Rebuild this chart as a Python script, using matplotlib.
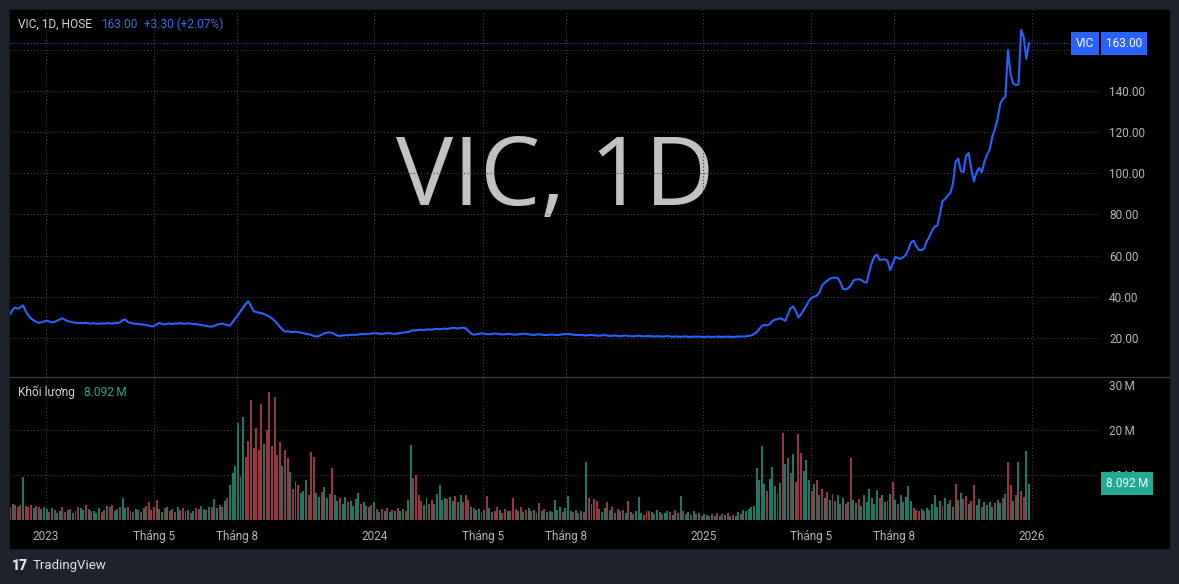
import matplotlib.pyplot as plt
import matplotlib.transforms as mtransforms
import numpy as np
import pandas as pd

plt.rcParams['font.family'] = ['Roboto', 'DejaVu Sans']

# --- data (one point every ~2 trading days) ---
start_date = '2022-11-22'
end_date = '2025-12-29'

price_A = [31.5, 33.8, 34.8, 34.2, 34.9, 35.8, 33.0, 31.0, 29.5, 28.6, 27.8, 27.3, 27.6, 28.0]
price_B = [28.4, 28.0, 27.6, 27.8, 28.4, 29.0, 29.6, 28.8, 28.2, 27.9, 27.6, 27.4, 27.3, 27.3,
           27.2, 27.4, 27.1, 27.0, 27.2, 27.0, 26.9, 27.1, 27.0, 27.2, 27.1, 27.0, 27.3, 27.2,
           27.6, 28.6, 29.0, 27.8, 27.3, 27.0, 26.9, 26.8, 26.6, 26.5, 26.3, 26.0]
price_C = [25.6, 25.8, 26.6, 27.4, 26.8, 26.6, 26.9, 27.0, 26.8, 27.1, 27.0, 27.2, 27.0, 26.9,
           27.1, 27.0, 26.8, 26.7, 26.5, 26.3, 26.1, 25.9, 25.6, 25.5, 25.9, 26.4, 26.8, 27.0,
           26.6, 26.3, 26.0, 27.8]
price_D = [29.5, 31.0, 33.0, 34.8, 36.5, 37.8, 35.5, 33.0, 32.6, 32.3, 32.1, 31.6, 31.0, 30.4,
           29.5, 28.4, 27.0, 25.5, 24.2, 23.0, 23.3, 23.0, 22.8, 23.1, 22.8, 22.6, 22.3, 22.0,
           21.8, 21.5, 21.0, 20.7, 21.0, 21.6, 22.3, 22.6, 22.7, 22.5, 21.8, 21.2, 21.0, 21.2,
           21.4, 21.3, 21.5, 21.6, 21.5, 21.7, 22.0, 21.9, 22.1, 22.0, 22.2, 22.3]
price_E = [22.3, 22.1, 22.0, 22.2, 22.4, 22.3, 22.1, 22.0, 22.2, 22.5, 22.6, 22.8, 22.9, 23.4,
           23.8, 23.6, 23.9, 24.0, 23.8, 24.1, 24.2, 24.0, 24.3, 24.5, 24.2, 24.4, 24.6, 24.4,
           24.7, 24.9, 24.8, 24.6, 24.9, 25.0, 24.7, 23.4, 22.2, 21.6, 21.8]
price_F = [22.0, 22.3, 22.1, 21.9, 21.8, 22.0, 22.2, 22.1, 21.9, 21.7, 21.8, 22.0, 21.9, 21.7,
           21.6, 21.8, 21.9, 22.1, 22.0, 21.8, 21.6, 21.5, 21.7, 21.8, 21.6, 21.5, 21.4, 21.6,
           21.7, 21.5, 21.4, 21.6, 21.8]
price_G = [21.9, 22.0, 21.8, 21.6, 21.5, 21.4, 21.5, 21.3, 21.2, 21.4, 21.5, 21.3, 21.2, 21.1,
           21.3, 21.4, 21.2, 21.0, 21.1, 21.2, 21.0, 20.9, 21.1, 21.2, 21.0, 20.9, 20.8, 21.0,
           21.1, 20.9, 20.8, 20.9, 21.0, 20.8, 20.7, 20.9, 20.8, 20.7, 20.8, 20.9, 20.7, 20.6,
           20.8, 20.7, 20.6, 20.7, 20.8, 20.6, 20.5, 20.7, 20.6, 20.7, 20.6, 20.5]
price_H = [20.7, 20.6, 20.5, 20.6, 20.7, 20.6, 20.5, 20.6, 20.7, 20.6, 20.5, 20.6, 20.7, 20.8,
           20.7, 20.8, 21.0, 21.3, 21.9, 22.8, 24.3, 25.8, 26.4, 26.1, 26.7, 28.2, 28.9, 29.1,
           29.6, 29.0, 28.3, 31.5, 34.5, 35.3, 33.0, 30.0, 31.5, 33.6, 35.5]
price_I = [38.0, 39.5, 40.0, 40.6, 42.0, 45.5, 46.9, 47.8, 48.8, 49.2, 49.3, 49.1, 47.0, 43.8,
           43.6, 44.2, 45.5, 48.0, 48.4, 48.5, 48.2, 47.2, 46.8, 52.0, 56.5, 59.5, 60.5, 57.9,
           58.0, 58.2, 57.5, 53.0]
price_J = [56.0, 59.3, 58.8, 58.4, 59.2, 60.3, 63.0, 66.5, 67.2, 64.5, 62.7, 62.6, 63.5, 67.0,
           69.2, 72.0, 74.1, 74.5, 80.0, 86.5, 87.5, 89.2, 90.3, 95.0, 105.5, 107.0, 101.0, 100.5,
           108.5, 109.8, 102.0, 96.0, 100.5, 102.5, 100.5, 105.6, 109.0, 111.5, 117.5, 121.5,
           126.0, 133.5, 136.0, 137.0, 159.8, 148.0, 143.5, 142.8, 143.0, 169.5, 166.0, 155.5, 163.0]

# volume in millions, direction g = up day, r = down day
vol_A = [3.0, 3.5, 3.3, 2.8, 3.4, 9.6, 3.2, 3.0, 3.4, 2.6, 3.1, 2.8, 2.5, 2.9]
dir_A = "rgrrr" "grrrg" "rrgg"
vol_B = [2.4, 1.8, 2.6, 2.2, 1.5, 2.0, 2.9, 1.7, 2.3, 2.5, 1.6, 2.1, 3.0, 2.7, 2.2, 3.3, 2.4,
         1.9, 2.0, 1.6, 2.6, 1.8, 2.3, 3.2, 2.8, 3.4, 2.0, 2.5, 2.8, 4.8, 2.6, 2.9, 2.1, 1.8,
         2.4, 2.2, 1.7, 2.6, 3.1, 4.0]
dir_B = "grgrg" "grrgr" "grrgg" "rgrgg" "grrgr" "rggrg" "grgrg" "grgrr"
vol_C = [2.2, 2.8, 4.4, 2.5, 1.8, 2.6, 3.0, 2.1, 2.4, 1.7, 2.9, 2.2, 2.6, 1.9, 2.3, 1.6, 2.0,
         2.7, 2.4, 3.2, 2.5, 2.2, 3.0, 2.8, 4.6, 2.6, 3.3, 3.0, 4.2, 5.0, 7.8, 10.5]
dir_C = "rrrgg" "rgrgr" "grrgg" "rgrrg" "grgrg" "grggr" "gg"
vol_D = [12.0, 21.5, 9.5, 23.0, 14.0, 17.5, 26.7, 16.0, 20.4, 15.5, 25.9, 17.0, 20.0, 28.5,
         16.5, 27.4, 14.5, 17.4, 12.0, 15.5, 13.7, 10.7, 7.0, 8.5, 7.8, 6.0, 6.5, 8.9, 5.5,
         15.2, 14.0, 6.0, 5.2, 6.3, 7.4, 5.0, 5.8, 11.5, 5.5, 4.2, 4.8, 3.6, 5.1, 3.9, 4.3,
         3.2, 4.6, 5.9, 3.5, 4.0, 3.1, 2.8, 3.4, 4.1]
dir_D = "ggggr" "rrrrr" "rgrrr" "rrrgr" "rgrgr" "gggrr" "rggrg" "grrgg" "rggrg" "gggrg" "rgrg"
vol_E = [2.5, 1.8, 2.4, 2.0, 2.6, 1.7, 2.2, 1.9, 2.6, 2.1, 2.4, 2.0, 4.5, 16.7, 9.3, 10.0,
         5.5, 4.2, 3.3, 4.8, 3.6, 4.4, 3.5, 5.8, 7.8, 4.5, 5.0, 4.6, 5.2, 4.3, 5.4, 4.1, 5.5,
         4.0, 5.5, 4.5, 3.0, 2.6, 2.2]
dir_E = "rgrgr" "grgrg" "grggr" "rrrgg" "rrggg" "ggrgg" "rggrr" "rgrg"
vol_F = [2.4, 1.8, 2.2, 5.3, 2.6, 1.7, 2.0, 2.8, 2.3, 1.6, 2.4, 2.1, 1.9, 4.8, 2.5, 2.0, 2.8,
         1.7, 2.3, 2.6, 1.9, 2.2, 1.6, 3.7, 2.1, 2.4, 1.8, 2.0, 1.7, 4.4, 2.2, 2.9, 1.8]
dir_F = "grgrg" "grrgr" "rgrrr" "grgrg" "rggrg" "rggrg" "ggr"
vol_G = [2.6, 5.3, 2.0, 1.7, 2.2, 1.5, 2.0, 1.8, 13.0, 4.8, 3.5, 4.6, 4.2, 2.4, 1.8, 2.6, 4.0,
         2.2, 2.8, 1.6, 2.5, 1.9, 2.3, 1.5, 4.2, 1.8, 1.3, 2.0, 5.2, 1.6, 1.2, 1.9, 2.1, 1.7,
         1.4, 2.2, 1.8, 1.3, 1.5, 2.0, 1.7, 1.2, 2.3, 1.6, 5.3, 2.0, 1.4, 1.7, 1.1, 1.9, 1.3,
         1.6, 1.0, 1.4]
dir_G = "gggrg" "rgrgr" "rrrrg" "grgrg" "rgrgr" "grggg" "rrrgr" "ggrgg" "rgrgg" "rggrg" "rgrg"
vol_H = [1.2, 0.9, 1.4, 1.0, 1.6, 0.9, 1.3, 1.1, 1.5, 0.8, 1.2, 1.0, 1.7, 1.3, 2.3, 2.0, 2.5,
         3.0, 3.2, 11.5, 9.0, 16.4, 8.0, 6.5, 9.2, 11.9, 7.5, 5.8, 8.3, 19.3, 12.5, 13.8, 10.5,
         14.6, 8.5, 19.1, 15.0, 11.0, 13.3]
dir_H = "grggr" "grgrg" "rggrg" "ggggg" "gggrg" "ggrgr" "ggrgr" "rrgg"
vol_I = [9.0, 6.5, 8.0, 8.9, 5.5, 7.0, 5.0, 6.2, 4.5, 5.8, 4.2, 5.5, 3.6, 4.8, 3.5, 4.0, 13.7,
         4.5, 3.8, 4.6, 3.2, 5.5, 4.1, 7.0, 5.0, 3.6, 6.7, 4.8, 5.5, 3.9, 4.3, 5.8]
dir_I = "grgrg" "rgrgr" "ggrgr" "grggr" "ggggg" "ggrgg" "rg"
vol_J = [8.5, 4.5, 3.6, 5.5, 4.0, 5.2, 7.6, 4.3, 2.6, 2.2, 2.0, 2.4, 1.9, 2.6, 2.2, 3.5, 5.5,
         2.8, 4.3, 3.2, 4.8, 3.5, 4.4, 3.0, 8.0, 4.5, 5.9, 4.7, 5.4, 3.6, 4.2, 7.8, 3.3, 4.6,
         2.9, 4.1, 3.4, 4.0, 3.0, 3.8, 4.5, 3.7, 4.9, 5.8, 13.0, 7.8, 4.2, 5.6, 13.0, 6.4, 5.2,
         15.3, 8.092]
dir_J = "rgrgg" "gggrr" "rgrgg" "ggggr" "ggrgr" "ggrrg" "rrggr" "ggggr" "ggrgr" "rgrgr" "rgg"

price = price_A + price_B + price_C + price_D + price_E + price_F + price_G + price_H + price_I + price_J
volume = vol_A + vol_B + vol_C + vol_D + vol_E + vol_F + vol_G + vol_H + vol_I + vol_J
vol_dir = dir_A + dir_B + dir_C + dir_D + dir_E + dir_F + dir_G + dir_H + dir_I + dir_J

last_price = 163.00
last_change = "+3.30 (+2.07%)"
last_volume = 8.092

tick_dates = ['2023-01-01', '2023-05-01', '2023-08-01', '2024-01-01', '2024-05-01',
              '2024-08-01', '2025-01-01', '2025-05-01', '2025-08-01', '2026-01-01']
tick_labels = ['2023', 'Tháng 5', 'Tháng 8', '2024', 'Tháng 5', 'Tháng 8',
               '2025', 'Tháng 5', 'Tháng 8', '2026']
price_ticks = [20, 40, 60, 80, 100, 120, 140, 160]
vol_ticks = [10, 20, 30]

# --- layout ---
W, H = 1179, 584
BG = '#1e222d'
TXT = '#b2b5be'
GRID = '#3a3d46'
BLUE = '#2962ff'
TEAL = '#22ab94'
UP = '#1d7866'
DOWN = '#963742'

def fx(x):
    return x / W

def fy(y):
    return 1 - y / H

t0 = pd.Timestamp(start_date).value
t1 = pd.Timestamp(end_date).value
dates = pd.to_datetime(np.linspace(t0, t1, len(price)))
step_days = (pd.Timestamp(end_date) - pd.Timestamp(start_date)).days / (len(price) - 1)
ticks = pd.to_datetime(tick_dates)

fig = plt.figure(figsize=(W / 100, H / 100), dpi=100, facecolor=BG)
fig.add_artist(plt.Rectangle((fx(10), fy(548)), 1159 / W, 538 / H,
                             transform=fig.transFigure, color='black', zorder=-5))

ax = fig.add_axes([fx(10), fy(377), 1090 / W, 367 / H])
axv = fig.add_axes([fx(10), fy(522), 1090 / W, 145 / H], sharex=ax)

for a in (ax, axv):
    a.set_facecolor('black')
    for s in a.spines.values():
        s.set_visible(False)
    for d in ticks:
        a.axvline(d, color=GRID, lw=0.8, ls=(0, (1, 2)), zorder=1)

# price pane
ax.plot(dates, price, color=BLUE, lw=1.5, zorder=3)
for v in price_ticks:
    ax.axhline(v, color=GRID, lw=0.8, ls=(0, (1, 2)), zorder=1)
ax.axhline(last_price, color=BLUE, lw=0.8, ls=(0, (1, 2)), alpha=0.8, zorder=2)
ax.set_ylim(1.07, 179.2)
ax.set_xlim(pd.Timestamp(start_date), pd.Timestamp('2026-03-18'))
ax.yaxis.tick_right()
ax.set_yticks(price_ticks)
ax.set_yticklabels([f'{v:.2f}' for v in price_ticks])
ax.tick_params(axis='y', length=0, pad=6.5, labelsize=8.5, colors=TXT)
ax.tick_params(axis='x', length=0, labelbottom=False)

ax.text(fx(555), fy(180), 'VIC, 1D', transform=fig.transFigure, ha='center', va='center',
        fontsize=69, family=['Open Sans', 'DejaVu Sans'], color='#c2c2c2', zorder=0)

# volume pane
colors = [UP if c == 'g' else DOWN for c in vol_dir]
axv.bar(dates, volume, width=step_days * 0.75, color=colors, zorder=2)
for v in vol_ticks[:2]:
    axv.axhline(v, color=GRID, lw=0.8, ls=(0, (1, 2)), zorder=1)
axv.set_ylim(-0.44, 31.8)
axv.yaxis.tick_right()
axv.set_yticks(vol_ticks)
axv.set_yticklabels([f'{v}\u2009M' for v in vol_ticks])
axv.tick_params(axis='y', length=0, pad=6.5, labelsize=8.5, colors=TXT)
axv.set_xticks(ticks)
axv.set_xticklabels(tick_labels)
axv.tick_params(axis='x', length=0, pad=5.5, labelsize=8.5, colors=TXT)

# pane separator
fig.add_artist(plt.Line2D([fx(10), fx(1169)], [fy(377), fy(377)], color='#363a45', lw=1))

# header legends
fig.text(fx(18), fy(24), 'VIC, 1D, HOSE', fontsize=8.6, color='#d1d4dc', va='center')
fig.text(fx(101), fy(24), f'{last_price:.2f}', fontsize=8.6, color='#3b6cf0', va='center')
fig.text(fx(144), fy(24), last_change, fontsize=8.6, color='#3b6cf0', va='center')
fig.text(fx(18), fy(392), 'Khối lượng', fontsize=8.6, color='#d1d4dc', va='center')
fig.text(fx(84), fy(392), f'{last_volume:.3f}\u2009M', fontsize=8.6, color=TEAL, va='center')

# last value labels on scales
tr_p = mtransforms.blended_transform_factory(fig.transFigure, ax.transData)
fig.text(fx(1094), last_price, 'VIC', transform=tr_p, ha='right', va='center', fontsize=8.5,
         color='white', bbox=dict(boxstyle='square,pad=0.42', fc=BLUE, ec='none'))
fig.text(fx(1106), last_price, f'{last_price:.2f}', transform=tr_p, ha='left', va='center',
         fontsize=8.5, color='white', bbox=dict(boxstyle='square,pad=0.42', fc=BLUE, ec='none'))
tr_v = mtransforms.blended_transform_factory(fig.transFigure, axv.transData)
fig.text(fx(1106), last_volume, f'{last_volume:.3f}\u2009M', transform=tr_v, ha='left',
         va='center', fontsize=8.5, color='white',
         bbox=dict(boxstyle='square,pad=0.42', fc=TEAL, ec='none'))

# footer
fig.text(fx(12), fy(566), '17', fontsize=10, fontweight='heavy', color='#e0e3eb', va='center')
fig.text(fx(33), fy(566), 'TradingView', fontsize=9.5, color='#e0e3eb', va='center')

fig.savefig('out.png', dpi=100, facecolor=BG)
